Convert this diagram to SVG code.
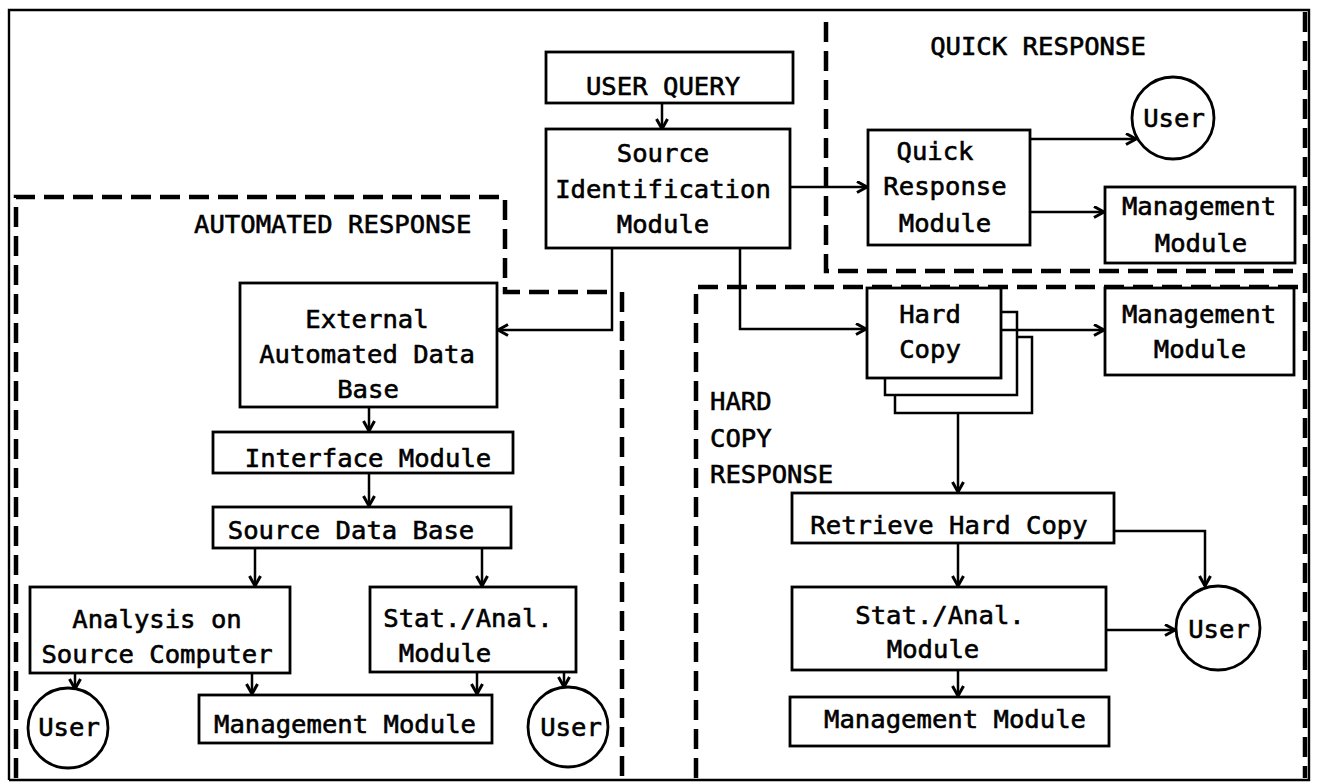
<svg xmlns="http://www.w3.org/2000/svg" width="1317" height="784" viewBox="0 0 1317 784">
  <defs>
    <marker id="arrow" markerUnits="userSpaceOnUse" markerWidth="15" markerHeight="15" refX="11.5" refY="6.5" orient="auto">
      <path d="M1.5,1 L11.5,6.5 L1.5,12" fill="none" stroke="#000" stroke-width="3" stroke-linejoin="miter"/>
    </marker>
    <style>
      .box { fill: #fff; stroke: #000; stroke-width: 2.8; }
      .frame { fill: none; stroke: #000; stroke-width: 2.4; }
      .region { fill: none; stroke: #000; stroke-width: 4.5; stroke-dasharray: 20 9; }
      .conn { fill: none; stroke: #000; stroke-width: 2.5; }
      .arr { marker-end: url(#arrow); }
      text { font-family: "DejaVu Sans Mono", "Liberation Mono", monospace; font-size: 25.6px; fill: #000; stroke: #000; stroke-width: 0.6px; }
      .c { text-anchor: middle; }
    </style>
  </defs>

  <rect width="1317" height="784" fill="#fff"/>

  <!-- outer frame -->
  <g id="frame">
    <path class="frame" d="M9,780 V10 H1309 V780 H9"/>
    <path class="region" d="M1305,12 V778"/>
  </g>

  <!-- response areas -->
  <g id="regions">
    <path class="region" d="M16,778 V197 H505 V292 H612"/>
    <path class="region" d="M622,292 V778"/>
    <path class="region" d="M826,22 V271 H1302"/>
    <path class="region" d="M696,778 V287 H1302"/>
    <text x="194" y="233">AUTOMATED RESPONSE</text>
    <text x="1038" y="55" class="c">QUICK RESPONSE</text>
    <text x="710" y="410">HARD</text>
    <text x="710" y="447">COPY</text>
    <text x="710" y="483">RESPONSE</text>
  </g>

  <!-- connectors -->
  <g id="connectors">
    <path class="conn arr" d="M662,103 V129"/>
    <path class="conn arr" d="M790,187 H867"/>
    <path class="conn arr" d="M612,248 V330 H498"/>
    <path class="conn arr" d="M740,248 V329 H866"/>
    <path class="conn arr" d="M1030,139 H1136"/>
    <path class="conn arr" d="M1030,212 H1104"/>
    <path class="conn arr" d="M1001,330 H1104"/>
    <path class="conn arr" d="M958,413 V492"/>
    <path class="conn arr" d="M958,543 V586"/>
    <path class="conn arr" d="M1114,531 H1205 V586"/>
    <path class="conn arr" d="M1106,630 H1175"/>
    <path class="conn arr" d="M958,670 V696"/>
    <path class="conn arr" d="M369,407 V431"/>
    <path class="conn arr" d="M369,473 V506"/>
    <path class="conn arr" d="M255,548 V586"/>
    <path class="conn arr" d="M482,548 V586"/>
    <path class="conn arr" d="M75,673 V689"/>
    <path class="conn arr" d="M252,673 V694"/>
    <path class="conn arr" d="M477,672 V694"/>
    <path class="conn arr" d="M564,672 V687"/>
  </g>

  <g id="user-query">
    <rect class="box" x="546" y="52" width="247" height="51"/>
    <text x="663" y="95" class="c">USER QUERY</text>
  </g>

  <g id="source-identification">
    <rect class="box" x="546" y="129" width="244" height="119"/>
    <text x="663" y="162" class="c">Source</text>
    <text x="663" y="198" class="c">Identification</text>
    <text x="663" y="233" class="c">Module</text>
  </g>

  <g id="quick-response-module">
    <rect class="box" x="868" y="130" width="162" height="115"/>
    <text x="935" y="160" class="c">Quick</text>
    <text x="945" y="195" class="c">Response</text>
    <text x="945" y="232" class="c">Module</text>
  </g>

  <g id="quick-user">
    <circle class="box" cx="1173" cy="118" r="41"/>
    <text x="1174" y="127" class="c">User</text>
  </g>

  <g id="quick-management">
    <rect class="box" x="1105" y="187" width="190" height="76"/>
    <text x="1199" y="215" class="c">Management</text>
    <text x="1201" y="252" class="c">Module</text>
  </g>

  <g id="hard-copy">
    <path class="conn" d="M1001,312 H1017 V395 H885 V378"/>
    <path class="conn" d="M1017,337 H1032 V413 H895 V395"/>
    <rect class="box" x="867" y="288" width="134" height="90"/>
    <text x="930" y="323" class="c">Hard</text>
    <text x="930" y="358" class="c">Copy</text>
  </g>

  <g id="hard-copy-management">
    <rect class="box" x="1105" y="288" width="189" height="87"/>
    <text x="1199" y="323" class="c">Management</text>
    <text x="1200" y="358" class="c">Module</text>
  </g>

  <g id="retrieve-hard-copy">
    <rect class="box" x="792" y="493" width="322" height="50"/>
    <text x="949" y="534" class="c">Retrieve Hard Copy</text>
  </g>

  <g id="hard-copy-stat-anal">
    <rect class="box" x="792" y="587" width="314" height="83"/>
    <text x="940" y="624" class="c">Stat./Anal.</text>
    <text x="933" y="658" class="c">Module</text>
  </g>

  <g id="hard-copy-user">
    <circle class="box" cx="1218" cy="628" r="42"/>
    <text x="1219" y="638" class="c">User</text>
  </g>

  <g id="hard-copy-final-management">
    <rect class="box" x="790" y="697" width="319" height="49"/>
    <text x="955" y="728" class="c">Management Module</text>
  </g>

  <g id="external-database">
    <rect class="box" x="240" y="283" width="257" height="124"/>
    <text x="367" y="328" class="c">External</text>
    <text x="367" y="363" class="c">Automated Data</text>
    <text x="368" y="398" class="c">Base</text>
  </g>

  <g id="interface-module">
    <rect class="box" x="213" y="432" width="300" height="41"/>
    <text x="368" y="467" class="c">Interface Module</text>
  </g>

  <g id="source-database">
    <rect class="box" x="213" y="507" width="298" height="41"/>
    <text x="351" y="539" class="c">Source Data Base</text>
  </g>

  <g id="analysis-source-computer">
    <rect class="box" x="30" y="587" width="260" height="86"/>
    <text x="157" y="628" class="c">Analysis on</text>
    <text x="157" y="663" class="c">Source Computer</text>
  </g>

  <g id="automated-stat-anal">
    <rect class="box" x="370" y="587" width="206" height="85"/>
    <text x="468" y="627" class="c">Stat./Anal.</text>
    <text x="445" y="662" class="c">Module</text>
  </g>

  <g id="automated-management">
    <rect class="box" x="199" y="695" width="293" height="48"/>
    <text x="345" y="733" class="c">Management Module</text>
  </g>

  <g id="automated-user-left">
    <circle class="box" cx="68" cy="728" r="40"/>
    <text x="69" y="736" class="c">User</text>
  </g>

  <g id="automated-user-right">
    <circle class="box" cx="568" cy="727" r="40"/>
    <text x="571" y="736" class="c">User</text>
  </g>
</svg>
